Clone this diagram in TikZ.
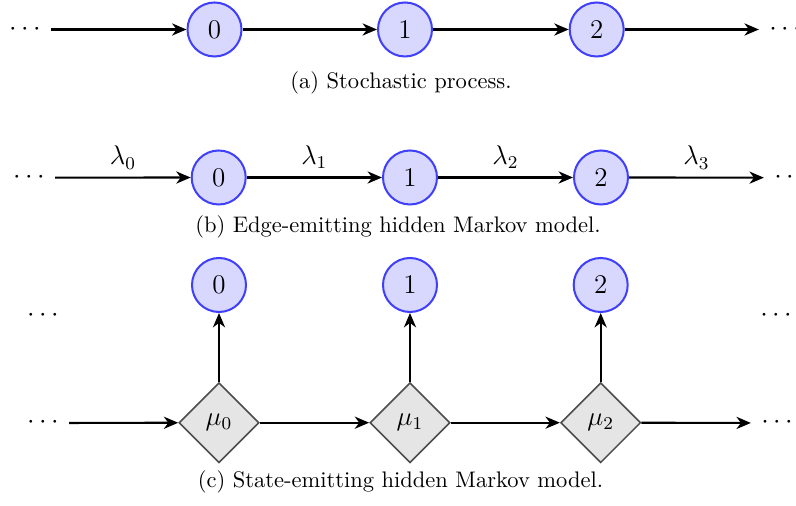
\documentclass[tikz,border=0pt]{standalone}
\usetikzlibrary{arrows.meta,shapes.geometric}
\definecolor{stfill}{RGB}{216,216,255}
\definecolor{stdraw}{RGB}{64,64,250}
\tikzset{
  state/.style={circle,draw=stdraw,fill=stfill,line width=0.9pt,minimum size=24pt,inner sep=0pt,font=\large},
  hid/.style={diamond,aspect=1,draw=black!70,fill=black!10,line width=0.7pt,minimum size=35.6pt,inner sep=0pt,font=\large},
  dots/.style={inner sep=4.4pt,font=\large},
  edge/.style={-{Stealth[length=6.4pt,width=5.4pt,inset=2pt]},line width=0.95pt},
  lab/.style={above,font=\large},
  captext/.style={font=\normalsize}
}
\begin{document}
\begin{tikzpicture}[x=0.4444pt,y=-0.4444pt]
\useasboundingbox (0,0) rectangle (796,506);
% (a)
\node[dots] (al) at (25,29.5) {$\cdots$};
\node[state] (a0) at (214.5,29.5) {0};
\node[state] (a1) at (405,29.5) {1};
\node[state] (a2) at (596.7,29.5) {2};
\node[dots] (ar) at (785,29.5) {$\cdots$};
\draw[edge] (al) -- (a0);
\draw[edge] (a0) -- (a1);
\draw[edge] (a1) -- (a2);
\draw[edge] (a2) -- (ar);
\node[captext] (capa) at (401,83) {(a) Stochastic process.};
% (b)
\node[dots] (bl) at (29,177.7) {$\cdots$};
\node[state] (b0) at (218.7,177.5) {0};
\node[state] (b1) at (410,177.5) {1};
\node[state] (b2) at (601,177.5) {2};
\node[dots] (br) at (790,177.7) {$\cdots$};
\draw[edge] (bl) -- node[lab] (l0) {$\lambda_0$} (b0);
\draw[edge] (b0) -- node[lab] (l1) {$\lambda_1$} (b1);
\draw[edge] (b1) -- node[lab] (l2) {$\lambda_2$} (b2);
\draw[edge] (b2) -- node[lab] (l3) {$\lambda_3$} (br);
\node[captext] (capb) at (398,227) {(b) Edge-emitting hidden Markov model.};
% (c)
\node[dots] (cul) at (43,316) {$\cdots$};
\node[dots] (cur) at (776,316) {$\cdots$};
\node[state] (c0) at (219,285) {0};
\node[state] (c1) at (410,285) {1};
\node[state] (c2) at (600.7,285) {2};
\node[dots] (cll) at (43,423) {$\cdots$};
\node[hid] (m0) at (219,422.7) {$\mu_0$};
\node[hid] (m1) at (410,422.7) {$\mu_1$};
\node[hid] (m2) at (600.7,422.7) {$\mu_2$};
\node[dots] (clr) at (777,423) {$\cdots$};
\draw[edge] (cll) -- (m0);
\draw[edge] (m0) -- (m1);
\draw[edge] (m1) -- (m2);
\draw[edge] (m2) -- (clr);
\draw[edge] (m0) -- (c0);
\draw[edge] (m1) -- (c1);
\draw[edge] (m2) -- (c2);
\node[captext] (capc) at (400.5,482) {(c) State-emitting hidden Markov model.};
\end{tikzpicture}
\end{document}
